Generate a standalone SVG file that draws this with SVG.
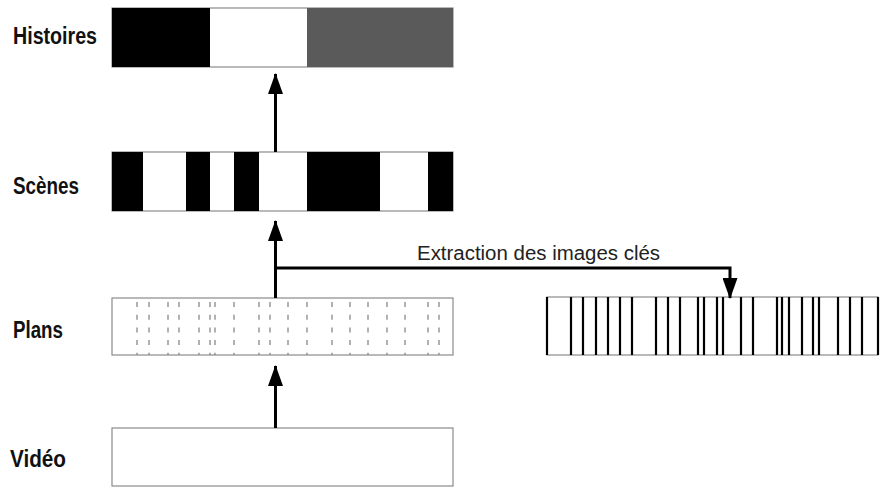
<svg xmlns="http://www.w3.org/2000/svg" width="880" height="487" viewBox="0 0 880 487">
<style>
.lbl{font-family:"Liberation Sans",Arial,sans-serif;font-weight:700;font-size:23px;fill:#111}
.cap{font-family:"Liberation Sans",Arial,sans-serif;font-size:19.5px;fill:#222}
.box{fill:#fff;stroke:#8a8a8a;stroke-width:1.2}
.blk{fill:#000}
.dash{stroke:#888;stroke-width:1.3;stroke-dasharray:5 7.7}
.kf{stroke:#000;stroke-width:2.2}
.conn{fill:none;stroke:#000;stroke-width:3}
</style>
<defs>
<marker id="ah" viewBox="0 0 21 15" refX="20" refY="7.5" markerWidth="21" markerHeight="15" markerUnits="userSpaceOnUse" orient="auto">
<path d="M0,0 L21,7.5 L0,15 Z" fill="#000"/>
</marker>
</defs>
<rect width="880" height="487" fill="#fff"/>

<g id="histoires">
<text class="lbl" x="13" y="44" textLength="84" lengthAdjust="spacingAndGlyphs">Histoires</text>
<rect class="box" x="112" y="8" width="341" height="59"/>
<rect class="blk" x="112" y="8" width="98" height="59"/>
<rect x="307" y="8" width="146" height="59" fill="#5a5a5a"/>
</g>

<g id="scenes">
<text class="lbl" x="13" y="194" textLength="66" lengthAdjust="spacingAndGlyphs">Scènes</text>
<rect class="box" x="112" y="152" width="341" height="59"/>
<rect class="blk" x="112" y="152" width="31" height="59"/>
<rect class="blk" x="186" y="152" width="24" height="59"/>
<rect class="blk" x="234" y="152" width="25" height="59"/>
<rect class="blk" x="307" y="152" width="73" height="59"/>
<rect class="blk" x="428" y="152" width="25" height="59"/>
</g>

<g id="plans">
<text class="lbl" x="13" y="338" textLength="50" lengthAdjust="spacingAndGlyphs">Plans</text>
<rect class="box" x="112" y="298" width="341" height="57"/>
<g class="dash">
<line x1="137" y1="302" x2="137" y2="355"/>
<line x1="149" y1="302" x2="149" y2="355"/>
<line x1="168" y1="302" x2="168" y2="355"/>
<line x1="179" y1="302" x2="179" y2="355"/>
<line x1="199" y1="302" x2="199" y2="355"/>
<line x1="210" y1="302" x2="210" y2="355"/>
<line x1="215" y1="302" x2="215" y2="355"/>
<line x1="234" y1="302" x2="234" y2="355"/>
<line x1="259" y1="302" x2="259" y2="355"/>
<line x1="270" y1="302" x2="270" y2="355"/>
<line x1="288" y1="302" x2="288" y2="355"/>
<line x1="307" y1="302" x2="307" y2="355"/>
<line x1="332" y1="302" x2="332" y2="355"/>
<line x1="350" y1="302" x2="350" y2="355"/>
<line x1="368" y1="302" x2="368" y2="355"/>
<line x1="387" y1="302" x2="387" y2="355"/>
<line x1="405" y1="302" x2="405" y2="355"/>
<line x1="428" y1="302" x2="428" y2="355"/>
<line x1="439" y1="302" x2="439" y2="355"/>
</g>
</g>

<g id="images-cles">
<rect class="box" x="547" y="297" width="331" height="58"/>
<g class="kf">
<line x1="547" y1="297" x2="547" y2="355"/>
<line x1="571" y1="297" x2="571" y2="355"/>
<line x1="583" y1="297" x2="583" y2="355"/>
<line x1="596" y1="297" x2="596" y2="355"/>
<line x1="608" y1="297" x2="608" y2="355"/>
<line x1="620" y1="297" x2="620" y2="355"/>
<line x1="632" y1="297" x2="632" y2="355"/>
<line x1="656" y1="297" x2="656" y2="355"/>
<line x1="668" y1="297" x2="668" y2="355"/>
<line x1="680" y1="297" x2="680" y2="355"/>
<line x1="698" y1="297" x2="698" y2="355"/>
<line x1="704" y1="297" x2="704" y2="355"/>
<line x1="717" y1="297" x2="717" y2="355"/>
<line x1="723" y1="297" x2="723" y2="355"/>
<line x1="741" y1="297" x2="741" y2="355"/>
<line x1="753" y1="297" x2="753" y2="355"/>
<line x1="777" y1="297" x2="777" y2="355"/>
<line x1="782" y1="297" x2="782" y2="355"/>
<line x1="789" y1="297" x2="789" y2="355"/>
<line x1="802" y1="297" x2="802" y2="355"/>
<line x1="813" y1="297" x2="813" y2="355"/>
<line x1="819" y1="297" x2="819" y2="355"/>
<line x1="838" y1="297" x2="838" y2="355"/>
<line x1="850" y1="297" x2="850" y2="355"/>
<line x1="862" y1="297" x2="862" y2="355"/>
<line x1="878" y1="297" x2="878" y2="355"/>
</g>
</g>

<g id="video">
<text class="lbl" x="10" y="467" textLength="56" lengthAdjust="spacingAndGlyphs">Vidéo</text>
<rect class="box" x="112" y="428" width="341" height="58"/>
</g>

<g id="connectors">
<line class="conn" x1="275.5" y1="428" x2="275.5" y2="366" marker-end="url(#ah)"/>
<line class="conn" x1="275.5" y1="298" x2="275.5" y2="221" marker-end="url(#ah)"/>
<line class="conn" x1="275.5" y1="152" x2="275.5" y2="74" marker-end="url(#ah)"/>
<polyline class="conn" points="275.5,268 730,268 730,298" marker-end="url(#ah)"/>
<text class="cap" x="417" y="260" textLength="243" lengthAdjust="spacingAndGlyphs">Extraction des images clés</text>
</g>
</svg>
